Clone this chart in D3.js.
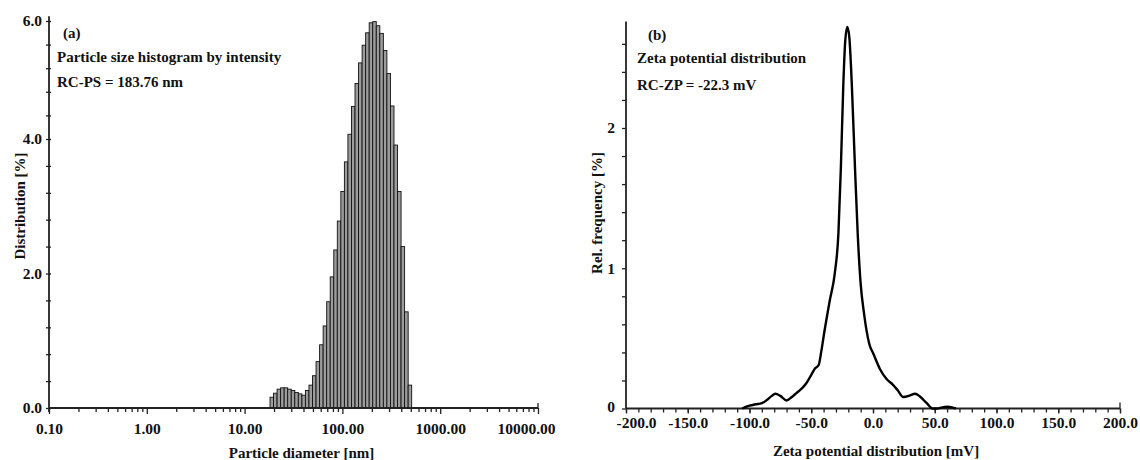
<!DOCTYPE html>
<html>
<head>
<meta charset="utf-8">
<script src="https://cdn.jsdelivr.net/npm/d3@7"></script>
<style>
  body { margin: 0; background: #fff; }
  svg text { font-family: "Liberation Serif", "Times New Roman", serif; font-weight: bold; fill: #111; }
</style>
</head>
<body>
<svg id="chart" width="1140" height="460"></svg>
<script>
// ---- (a) Particle size histogram by intensity ----
// Bin edges in nm (41 edges -> 40 bins)
const sizeBinEdges = [18.19, 19.76, 21.48, 23.35, 25.38, 27.59, 29.99, 32.60, 35.44, 38.52,
  41.87, 45.51, 49.47, 53.78, 58.46, 63.54, 69.07, 75.08, 81.61, 88.72,
  96.40, 104.8, 113.9, 123.8, 134.6, 146.3, 159.0, 172.9, 187.9, 204.3,
  222.0, 241.3, 262.3, 285.1, 309.9, 336.9, 366.2, 398.0, 432.6, 470.3, 511.1];
// Intensity share per bin, %
const sizeDistribution = [0.16, 0.22, 0.28, 0.30, 0.30, 0.28, 0.26, 0.23, 0.21, 0.19,
  0.26, 0.34, 0.48, 0.69, 0.94, 1.22, 1.58, 1.95, 2.35, 2.78,
  3.22, 3.66, 4.08, 4.55, 4.94, 5.29, 5.59, 5.80, 5.97, 5.99,
  5.92, 5.79, 5.50, 5.11, 4.56, 3.91, 3.22, 2.40, 1.43, 0.34];
const sizeTicks = [0.1, 1, 10, 100, 1000, 10000];
const sizeTickLabels = ["0.10", "1.00", "10.00", "100.00", "1000.00", "10000.00"];
const distTicks = [0, 2, 4, 6];
const distTickLabels = ["0.0", "2.0", "4.0", "6.0"];

// ---- (b) Zeta potential distribution ----
const zetaPotential = [-106, -100, -95, -90, -86, -82, -79, -75, -70, -66, -62, -58, -54, -50,
  -47, -44, -42, -39.5, -35, -31, -28, -26, -24, -22.4, -20.8, -19.2, -17.2, -14.6, -12.4,
  -10, -7.3, -3, 0.3, 5.7, 11, 16, 20, 24.5, 30, 34, 38, 43.5, 48.3, 52, 56, 60, 64, 67];
const zetaFrequency = [0, 0.02, 0.03, 0.038, 0.06, 0.09, 0.105, 0.09, 0.057, 0.08, 0.11, 0.14, 0.18, 0.24,
  0.285, 0.31, 0.40, 0.54, 0.77, 0.96, 1.25, 1.72, 2.32, 2.63, 2.72, 2.65, 2.32, 1.72, 1.25,
  0.89, 0.68, 0.46, 0.39, 0.28, 0.21, 0.17, 0.13, 0.082, 0.093, 0.105, 0.086, 0.038, 0, 0, 0.008, 0.012, 0.008, 0];
const zetaTicks = [-200, -150, -100, -50, 0, 50, 100, 150, 200];
const zetaTickLabels = ["-200.0", "-150.0", "-100.0", "-50.0", "0.0", "50.0", "100.0", "150.0", "200.0"];
const freqTicks = [0, 1, 2];
const freqTickLabels = ["0", "1", "2"];

const svg = d3.select("#chart");
const FS = "15.5px";
const axisColor = "#222";

function styleAxis(g) {
  g.select(".domain").remove();
  g.selectAll(".tick line").attr("stroke", axisColor).attr("stroke-width", 1.3);
  g.selectAll(".tick text").style("font-size", FS).attr("fill", "#111");
}

// ================= Panel (a) =================
const xA = d3.scaleLog().domain([0.1, 10000]).range([49, 538]);
const yA = d3.scaleLinear().domain([0, 4, 6]).range([408, 139, 21]);

const gA = svg.append("g");

// bars
const bins = sizeDistribution.map((v, i) => ({ x0: sizeBinEdges[i], x1: sizeBinEdges[i + 1], v }));
gA.append("g").selectAll("rect").data(bins).join("rect")
  .attr("x", d => xA(d.x0))
  .attr("width", d => xA(d.x1) - xA(d.x0))
  .attr("y", d => yA(d.v))
  .attr("height", d => yA(0) - yA(d.v))
  .attr("fill", "#9c9c9c")
  .attr("stroke", "#111")
  .attr("stroke-width", 0.9);

// minor x ticks (2..9 in each decade)
const minorSize = [];
for (let e = -1; e < 4; e++) for (let m = 2; m <= 9; m++) minorSize.push(m * Math.pow(10, e));
gA.append("g").attr("transform", `translate(0,${yA(0)})`)
  .call(d3.axisBottom(xA).tickValues(minorSize).tickFormat("").tickSize(4))
  .call(styleAxis);

// major x ticks + labels
const axA = gA.append("g").attr("transform", `translate(0,${yA(0)})`)
  .call(d3.axisBottom(xA).tickValues(sizeTicks).tickFormat((d, i) => sizeTickLabels[i]).tickSize(6))
  .call(styleAxis);
axA.selectAll(".tick text").attr("y", 21).attr("dy", "0.35em");
axA.selectAll(".tick").filter(d => d === 10000).select("text").attr("dx", -12);

// y minor ticks
gA.append("g").attr("transform", `translate(${xA(0.1)},0)`)
  .call(d3.axisLeft(yA).tickValues(d3.range(0, 6.01, 0.4)).tickFormat("").tickSize(3))
  .call(styleAxis);
gA.append("g").attr("transform", `translate(${xA(0.1)},0)`)
  .call(d3.axisRight(yA).tickValues(d3.range(0, 6.01, 0.4)).tickFormat("").tickSize(2))
  .call(styleAxis);
gA.append("g").attr("transform", `translate(${xA(0.1)},0)`)
  .call(d3.axisLeft(yA).tickValues(distTicks).tickFormat((d, i) => distTickLabels[i]).tickSize(0).tickPadding(7))
  .call(styleAxis);

// axis lines
gA.append("line").attr("x1", xA(0.1)).attr("x2", xA(0.1)).attr("y1", yA(0) + 4).attr("y2", yA(6.08))
  .attr("stroke", axisColor).attr("stroke-width", 1.8);
gA.append("line").attr("x1", xA(0.1)).attr("x2", xA(10000)).attr("y1", yA(0)).attr("y2", yA(0))
  .attr("stroke", axisColor).attr("stroke-width", 1.8);
gA.append("line").attr("x1", xA(10000)).attr("x2", xA(10000)).attr("y1", yA(0)).attr("y2", yA(0) - 5)
  .attr("stroke", axisColor).attr("stroke-width", 1.3);

// titles
gA.append("text").attr("x", (xA(0.1) + xA(10000)) / 2 + 8).attr("y", 453).attr("dy", "0.35em")
  .attr("text-anchor", "middle").style("font-size", "15px").text("Particle diameter [nm]");
gA.append("text").attr("transform", "translate(20,206) rotate(-90)").attr("dy", "0.35em")
  .attr("text-anchor", "middle").style("font-size", "15px").text("Distribution [%]");

gA.append("text").attr("x", 63).attr("y", 33).attr("dy", "0.35em").style("font-size", "15px").text("(a)");
gA.append("text").attr("x", 57).attr("y", 57).attr("dy", "0.35em").style("font-size", "15px")
  .text("Particle size histogram by intensity");
gA.append("text").attr("x", 57).attr("y", 82).attr("dy", "0.35em").style("font-size", "15px")
  .text("RC-PS = 183.76 nm");

// ================= Panel (b) =================
const xB = d3.scaleLinear().domain([-200, 200]).range([626, 1120]);
const yB = d3.scaleLinear().domain([0, 2]).range([408.5, 128]);
const gB = svg.append("g");

// minor x ticks every 10 mV
gB.append("g").attr("transform", `translate(0,${yB(0)})`)
  .call(d3.axisBottom(xB).tickValues(d3.range(-200, 201, 10)).tickFormat("").tickSize(4))
  .call(styleAxis);
const axB = gB.append("g").attr("transform", `translate(0,${yB(0)})`)
  .call(d3.axisBottom(xB).tickValues(zetaTicks).tickFormat((d, i) => zetaTickLabels[i]).tickSize(5))
  .call(styleAxis);
axB.selectAll(".tick text").attr("y", 14).attr("dy", "0.35em");
axB.selectAll(".tick").filter(d => d === -200).select("text").attr("dx", 10);

// y ticks every 0.2
gB.append("g").attr("transform", `translate(${xB(-200)},0)`)
  .call(d3.axisLeft(yB).tickValues(d3.range(0, 2.75, 0.2)).tickFormat("").tickSize(4))
  .call(styleAxis);
const ayB = gB.append("g").attr("transform", `translate(${xB(-200)},0)`)
  .call(d3.axisLeft(yB).tickValues(freqTicks).tickFormat((d, i) => freqTickLabels[i]).tickSize(0).tickPadding(11))
  .call(styleAxis);
ayB.selectAll(".tick").filter(d => d === 0).select("text").attr("dy", "0.2em");

// axis lines
gB.append("line").attr("x1", xB(-200)).attr("x2", xB(-200)).attr("y1", yB(0)).attr("y2", yB(2.76))
  .attr("stroke", axisColor).attr("stroke-width", 1.8);
gB.append("line").attr("x1", xB(-200)).attr("x2", xB(200)).attr("y1", yB(0)).attr("y2", yB(0))
  .attr("stroke", axisColor).attr("stroke-width", 1.8);
gB.append("line").attr("x1", xB(200)).attr("x2", xB(200)).attr("y1", yB(0)).attr("y2", yB(0) - 6)
  .attr("stroke", axisColor).attr("stroke-width", 1.3);

// distribution curve
const zeta = zetaPotential.map((x, i) => ({ x, y: zetaFrequency[i] }));
gB.append("path").datum(zeta)
  .attr("fill", "none").attr("stroke", "#000").attr("stroke-width", 2.4)
  .attr("stroke-linejoin", "round")
  .attr("d", d3.line().x(d => xB(d.x)).y(d => yB(d.y)).curve(d3.curveMonotoneX));

// titles
gB.append("text").attr("x", 876).attr("y", 451).attr("dy", "0.35em")
  .attr("text-anchor", "middle").style("font-size", "15px").text("Zeta potential distribution [mV]");
gB.append("text").attr("transform", "translate(597,213) rotate(-90)").attr("dy", "0.35em")
  .attr("text-anchor", "middle").style("font-size", "15px").text("Rel. frequency [%]");

gB.append("text").attr("x", 648).attr("y", 35).attr("dy", "0.35em").style("font-size", "15px").text("(b)");
gB.append("text").attr("x", 637).attr("y", 58).attr("dy", "0.35em").style("font-size", "15px")
  .text("Zeta potential distribution");
gB.append("text").attr("x", 637).attr("y", 85).attr("dy", "0.35em").style("font-size", "15px")
  .text("RC-ZP = -22.3 mV");
</script>
</body>
</html>
